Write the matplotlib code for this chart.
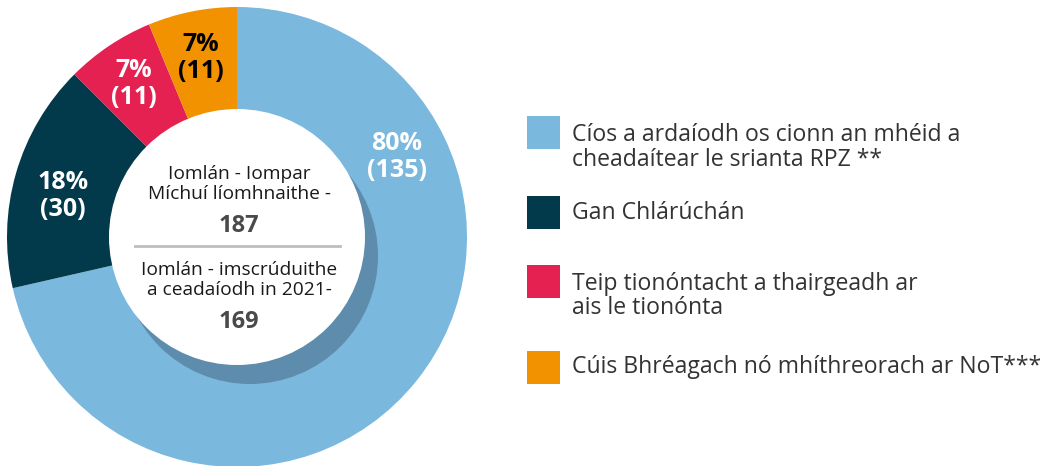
import matplotlib
matplotlib.use("Agg")
import matplotlib.pyplot as plt
from matplotlib.patches import Circle, Rectangle

# ---- data ----
categories = [
    "Cíos a ardaíodh os cionn an mhéid a\ncheadaítear le srianta RPZ **",
    "Gan Chlárúchán",
    "Teip tionóntacht a thairgeadh ar\nais le tionónta",
    "Cúis Bhréagach nó mhíthreorach ar NoT***",
]
percents = [80, 18, 7, 7]
counts = [135, 30, 11, 11]
label_colors = ["white", "white", "white", "black"]
colors = ["#7ab8de", "#023a4b", "#e52152", "#f29200"]
center_title_1 = "Iomlán - Iompar\nMíchuí líomhnaithe -"
center_total_1 = "187"
center_title_2 = "Iomlán - imscrúduithe\na ceadaíodh in 2021-"
center_total_2 = "169"

plt.rcParams['font.family'] = ['Open Sans', 'DejaVu Sans']

W, H = 1045, 466
fig = plt.figure(figsize=(W / 100, H / 100), dpi=100)
ax = fig.add_axes([0, 0, 1, 1])

def Y(y):  # image y -> data y
    return H - y

cx, cy = 237, Y(237)
R = 230
r_in = 128

ax.pie(percents, colors=colors, startangle=90, counterclock=False,
       radius=R, center=(cx, cy), frame=True,
       wedgeprops=dict(linewidth=0))

# shadow + hole
ax.add_patch(Circle((cx + 13, cy - 19), r_in, color="#5e8cad", zorder=3, lw=0))
ax.add_patch(Circle((cx, cy), r_in, color="white", zorder=4, lw=0))

# slice labels (placement)
label_pos = [(397, 157), (63, 196), (134, 84), (201, 58)]
for (x, y), p, n, c in zip(label_pos, percents, counts, label_colors):
    ax.text(x, Y(y), f"{p}%\n({n})", ha="center", va="center", color=c,
            fontsize=18, fontweight="bold", linespacing=1.08, zorder=5)

# center text
tx = 239
ax.text(tx, Y(184), center_title_1, ha="center", va="center", fontsize=13.8,
        color="#1a1a1a", linespacing=1.08, zorder=5)
ax.text(tx, Y(226), center_total_1, ha="center", va="center", fontsize=17,
        color="#4a4a4a", fontweight="bold", zorder=5)
ax.plot([135, 340], [Y(246), Y(246)], color="#bdbdbd", lw=2, zorder=5)
ax.text(tx, Y(280), center_title_2, ha="center", va="center", fontsize=13.8,
        color="#1a1a1a", linespacing=1.08, zorder=5)
ax.text(tx, Y(322), center_total_2, ha="center", va="center", fontsize=17,
        color="#4a4a4a", fontweight="bold", zorder=5)

# legend
sq_top = [116, 196, 265, 351]
txt_y = [147.5, 213, 296, 367]
for top, ty, col, lab in zip(sq_top, txt_y, colors, categories):
    ax.add_patch(Rectangle((527, Y(top + 33)), 33, 33, color=col, lw=0))
    ax.text(572, Y(ty), lab, ha="left", va="center", fontsize=16.6,
            color="#333333", linespacing=1.05)

ax.set_xlim(0, W)
ax.set_ylim(0, H)
ax.set_aspect("equal")
ax.axis("off")

fig.savefig("out.png", dpi=100)
